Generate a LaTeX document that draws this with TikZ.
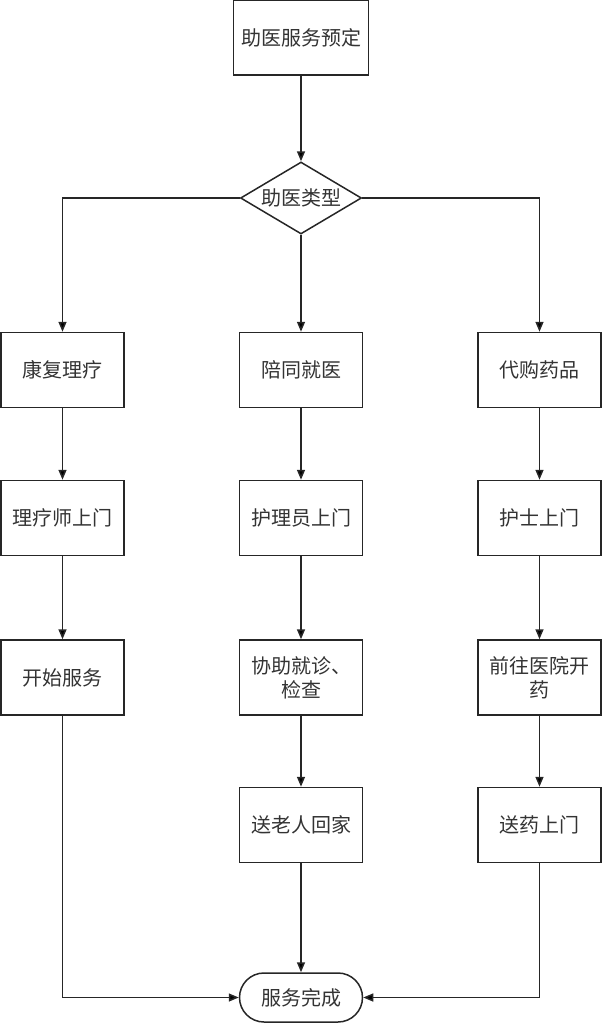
\documentclass[tikz,border=0pt]{standalone}
\usepackage{fontspec}
\newfontfamily\cjk{Noto Sans CJK SC}
\usetikzlibrary{positioning,shapes.geometric,arrows.meta}

\tikzset{
  box/.style={draw=black!85,line width=0.75pt,minimum width=61.5pt,
    minimum height=37.5pt,inner sep=2pt,align=center,text=black!80,
    font=\cjk\fontsize{10}{12}\selectfont},
  choice/.style={box,diamond,aspect=1.68,inner sep=0pt,
    minimum width=60.5pt,minimum height=36pt},
  stop/.style={box,rounded corners=12.25pt,minimum height=24.5pt},
  hv/.style={to path={-| (\tikztotarget)}},
  vh/.style={to path={|- (\tikztotarget)}}
}

\begin{document}
\begin{tikzpicture}[on grid,>={Triangle[length=5pt,width=4pt]}]
  \useasboundingbox (0,0) rectangle (301.5pt,-512pt);
  \node[box,minimum width=67.5pt] (s_0) at (150.5pt,-18.75pt) {助医服务预定};
  \node[choice] (d_0) [below=80.25pt of s_0] {助医类型};
  % row 1
  \node[box] (m_1) [below=86pt of d_0] {陪同就医};
  \node[box] (l_1) [left=119.25pt of m_1] {康复理疗};
  \node[box] (r_1) [right=119.25pt of m_1] {代购药品};
  % row 2
  \node[box] (m_2) [below=74pt of m_1] {护理员上门};
  \node[box] (l_2) [below=74pt of l_1] {理疗师上门};
  \node[box] (r_2) [below=74pt of r_1] {护士上门};
  % row 3
  \node[box] (m_3) [below=79.75pt of m_2] {协助就诊、\\检查};
  \node[box] (l_3) [below=79.75pt of l_2] {开始服务};
  \node[box] (r_3) [below=79.75pt of r_2] {前往医院开\\药};
  % row 4
  \node[box] (m_4) [below=73.75pt of m_3] {送老人回家};
  \node[box] (r_4) [below=73.75pt of r_3] {送药上门};
  \node[stop] (e_0) [below=86.25pt of m_4] {服务完成};
  \path[->,draw=black!85,line width=0.75pt]
  (s_0) edge (d_0)
  (d_0) edge [hv] (l_1)
  (d_0) edge (m_1)
  (d_0) edge [hv] (r_1)
  (l_1) edge (l_2)
  (l_2) edge (l_3)
  (m_1) edge (m_2)
  (m_2) edge (m_3)
  (m_3) edge (m_4)
  (r_1) edge (r_2)
  (r_2) edge (r_3)
  (r_3) edge (r_4)
  (m_4) edge (e_0)
  (l_3) edge [vh] (e_0)
  (r_4) edge [vh] (e_0)
  ;
\end{tikzpicture}
\end{document}
